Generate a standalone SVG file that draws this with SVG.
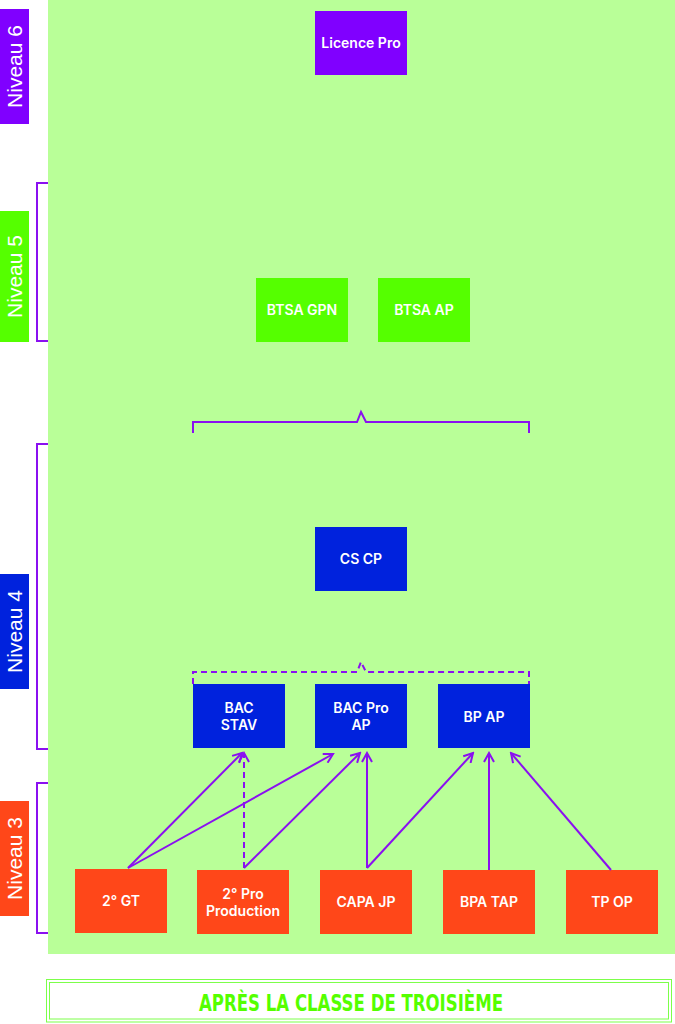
<svg xmlns="http://www.w3.org/2000/svg" width="675" height="1024" viewBox="0 0 675 1024">
<defs>
<style>
.lbl{font-family:Inter,"Open Sans","Liberation Sans",sans-serif;font-weight:600;font-size:14px;fill:#ffffff;text-anchor:middle}
.niv{font-family:"Liberation Sans",Arial,sans-serif;font-size:21px;fill:#ffffff;text-anchor:middle}
.conn{stroke:#8A10F0;stroke-width:2;fill:none}
.dash{stroke-dasharray:6 4}
.br{stroke:#8A10F0;stroke-width:2;fill:none}
.p{fill:#8000FF}.g{fill:#55FF00}.b{fill:#0022DD}.o{fill:#FF4719}
</style>
<marker id="arr" viewBox="0 0 12 12" refX="10" refY="6" markerWidth="12" markerHeight="12" markerUnits="userSpaceOnUse" orient="auto">
<path d="M1,1 L10,6 L1,11" fill="none" stroke="#8A10F0" stroke-width="2"/>
</marker>
</defs>
<rect x="0" y="0" width="675" height="1024" fill="#ffffff"/>
<rect x="48" y="0" width="627" height="954" fill="#B9FF98"/>

<g id="levels">
<g id="niveau6"><rect x="0" y="9" width="29" height="115" class="p"/><text class="niv" transform="translate(22,66.5) rotate(-90)">Niveau 6</text></g>
<g id="niveau5"><rect x="0" y="211" width="29" height="131" class="g"/><text class="niv" transform="translate(22,276.5) rotate(-90)">Niveau 5</text></g>
<g id="niveau4"><rect x="0" y="574" width="29" height="115" class="b"/><text class="niv" transform="translate(22,631.5) rotate(-90)">Niveau 4</text></g>
<g id="niveau3"><rect x="0" y="801" width="29" height="115" class="o"/><text class="niv" transform="translate(22,858.5) rotate(-90)">Niveau 3</text></g>
<path class="br" d="M48,183 H37 V341 H48"/>
<path class="br" d="M48,444 H37 V749 H48"/>
<path class="br" d="M48,783 H37 V933 H48"/>
</g>

<g id="licence-pro"><rect x="315" y="11" width="92" height="64" class="p"/><text class="lbl" x="361" y="48">Licence Pro</text></g>
<g id="btsa-gpn"><rect x="256" y="278" width="92" height="64" class="g"/><text class="lbl" x="302" y="315">BTSA GPN</text></g>
<g id="btsa-ap"><rect x="378" y="278" width="92" height="64" class="g"/><text class="lbl" x="424" y="315">BTSA AP</text></g>
<g id="cs-cp"><rect x="315" y="527" width="92" height="64" class="b"/><text class="lbl" x="361" y="564">CS CP</text></g>
<g id="bac-stav"><rect x="193" y="684" width="92" height="64" class="b"/><text class="lbl" x="239" y="713">BAC</text><text class="lbl" x="239" y="730">STAV</text></g>
<g id="bac-pro-ap"><rect x="315" y="684" width="92" height="64" class="b"/><text class="lbl" x="361" y="713">BAC Pro</text><text class="lbl" x="361" y="730">AP</text></g>
<g id="bp-ap"><rect x="438" y="684" width="92" height="64" class="b"/><text class="lbl" x="484" y="722">BP AP</text></g>
<g id="2gt"><rect x="75" y="869" width="92" height="64" class="o"/><text class="lbl" x="121" y="906">2° GT</text></g>
<g id="2pro"><rect x="197" y="870" width="92" height="64" class="o"/><text class="lbl" x="243" y="899">2° Pro</text><text class="lbl" x="243" y="916">Production</text></g>
<g id="capa-jp"><rect x="320" y="870" width="92" height="64" class="o"/><text class="lbl" x="366" y="907">CAPA JP</text></g>
<g id="bpa-tap"><rect x="443" y="870" width="92" height="64" class="o"/><text class="lbl" x="489" y="907">BPA TAP</text></g>
<g id="tp-op"><rect x="566" y="870" width="92" height="64" class="o"/><text class="lbl" x="612" y="907">TP OP</text></g>

<g id="connectors">
<path class="conn" d="M193,433 V422 H357 L361,412 L366,422 H529 V433"/>
<path class="conn dash" d="M193,684 V672 H357 L361,662 L366,672 H529 V684"/>
<line class="conn" x1="128" y1="868" x2="242" y2="753" marker-end="url(#arr)"/>
<line class="conn" x1="128" y1="868" x2="333" y2="754" marker-end="url(#arr)"/>
<line class="conn dash" x1="244" y1="868" x2="244" y2="753" marker-end="url(#arr)"/>
<line class="conn" x1="244" y1="868" x2="360" y2="753" marker-end="url(#arr)"/>
<line class="conn" x1="367" y1="868" x2="367" y2="753" marker-end="url(#arr)"/>
<line class="conn" x1="367" y1="868" x2="473" y2="753" marker-end="url(#arr)"/>
<line class="conn" x1="489" y1="870" x2="489" y2="753" marker-end="url(#arr)"/>
<line class="conn" x1="611" y1="870" x2="511" y2="753" marker-end="url(#arr)"/>
</g>

<g id="title">
<rect x="46.5" y="979.5" width="625" height="42.5" fill="none" stroke="#7CFF4A" stroke-width="1"/>
<rect x="49.5" y="982.5" width="619" height="36.5" fill="none" stroke="#7CFF4A" stroke-width="1"/>
<text x="351" y="1011" font-family="'DejaVu Sans','Liberation Sans',sans-serif" font-weight="bold" font-size="23" fill="#55FF00" text-anchor="middle" textLength="304" lengthAdjust="spacingAndGlyphs">APRÈS LA CLASSE DE TROISIÈME</text>
</g>
</svg>
